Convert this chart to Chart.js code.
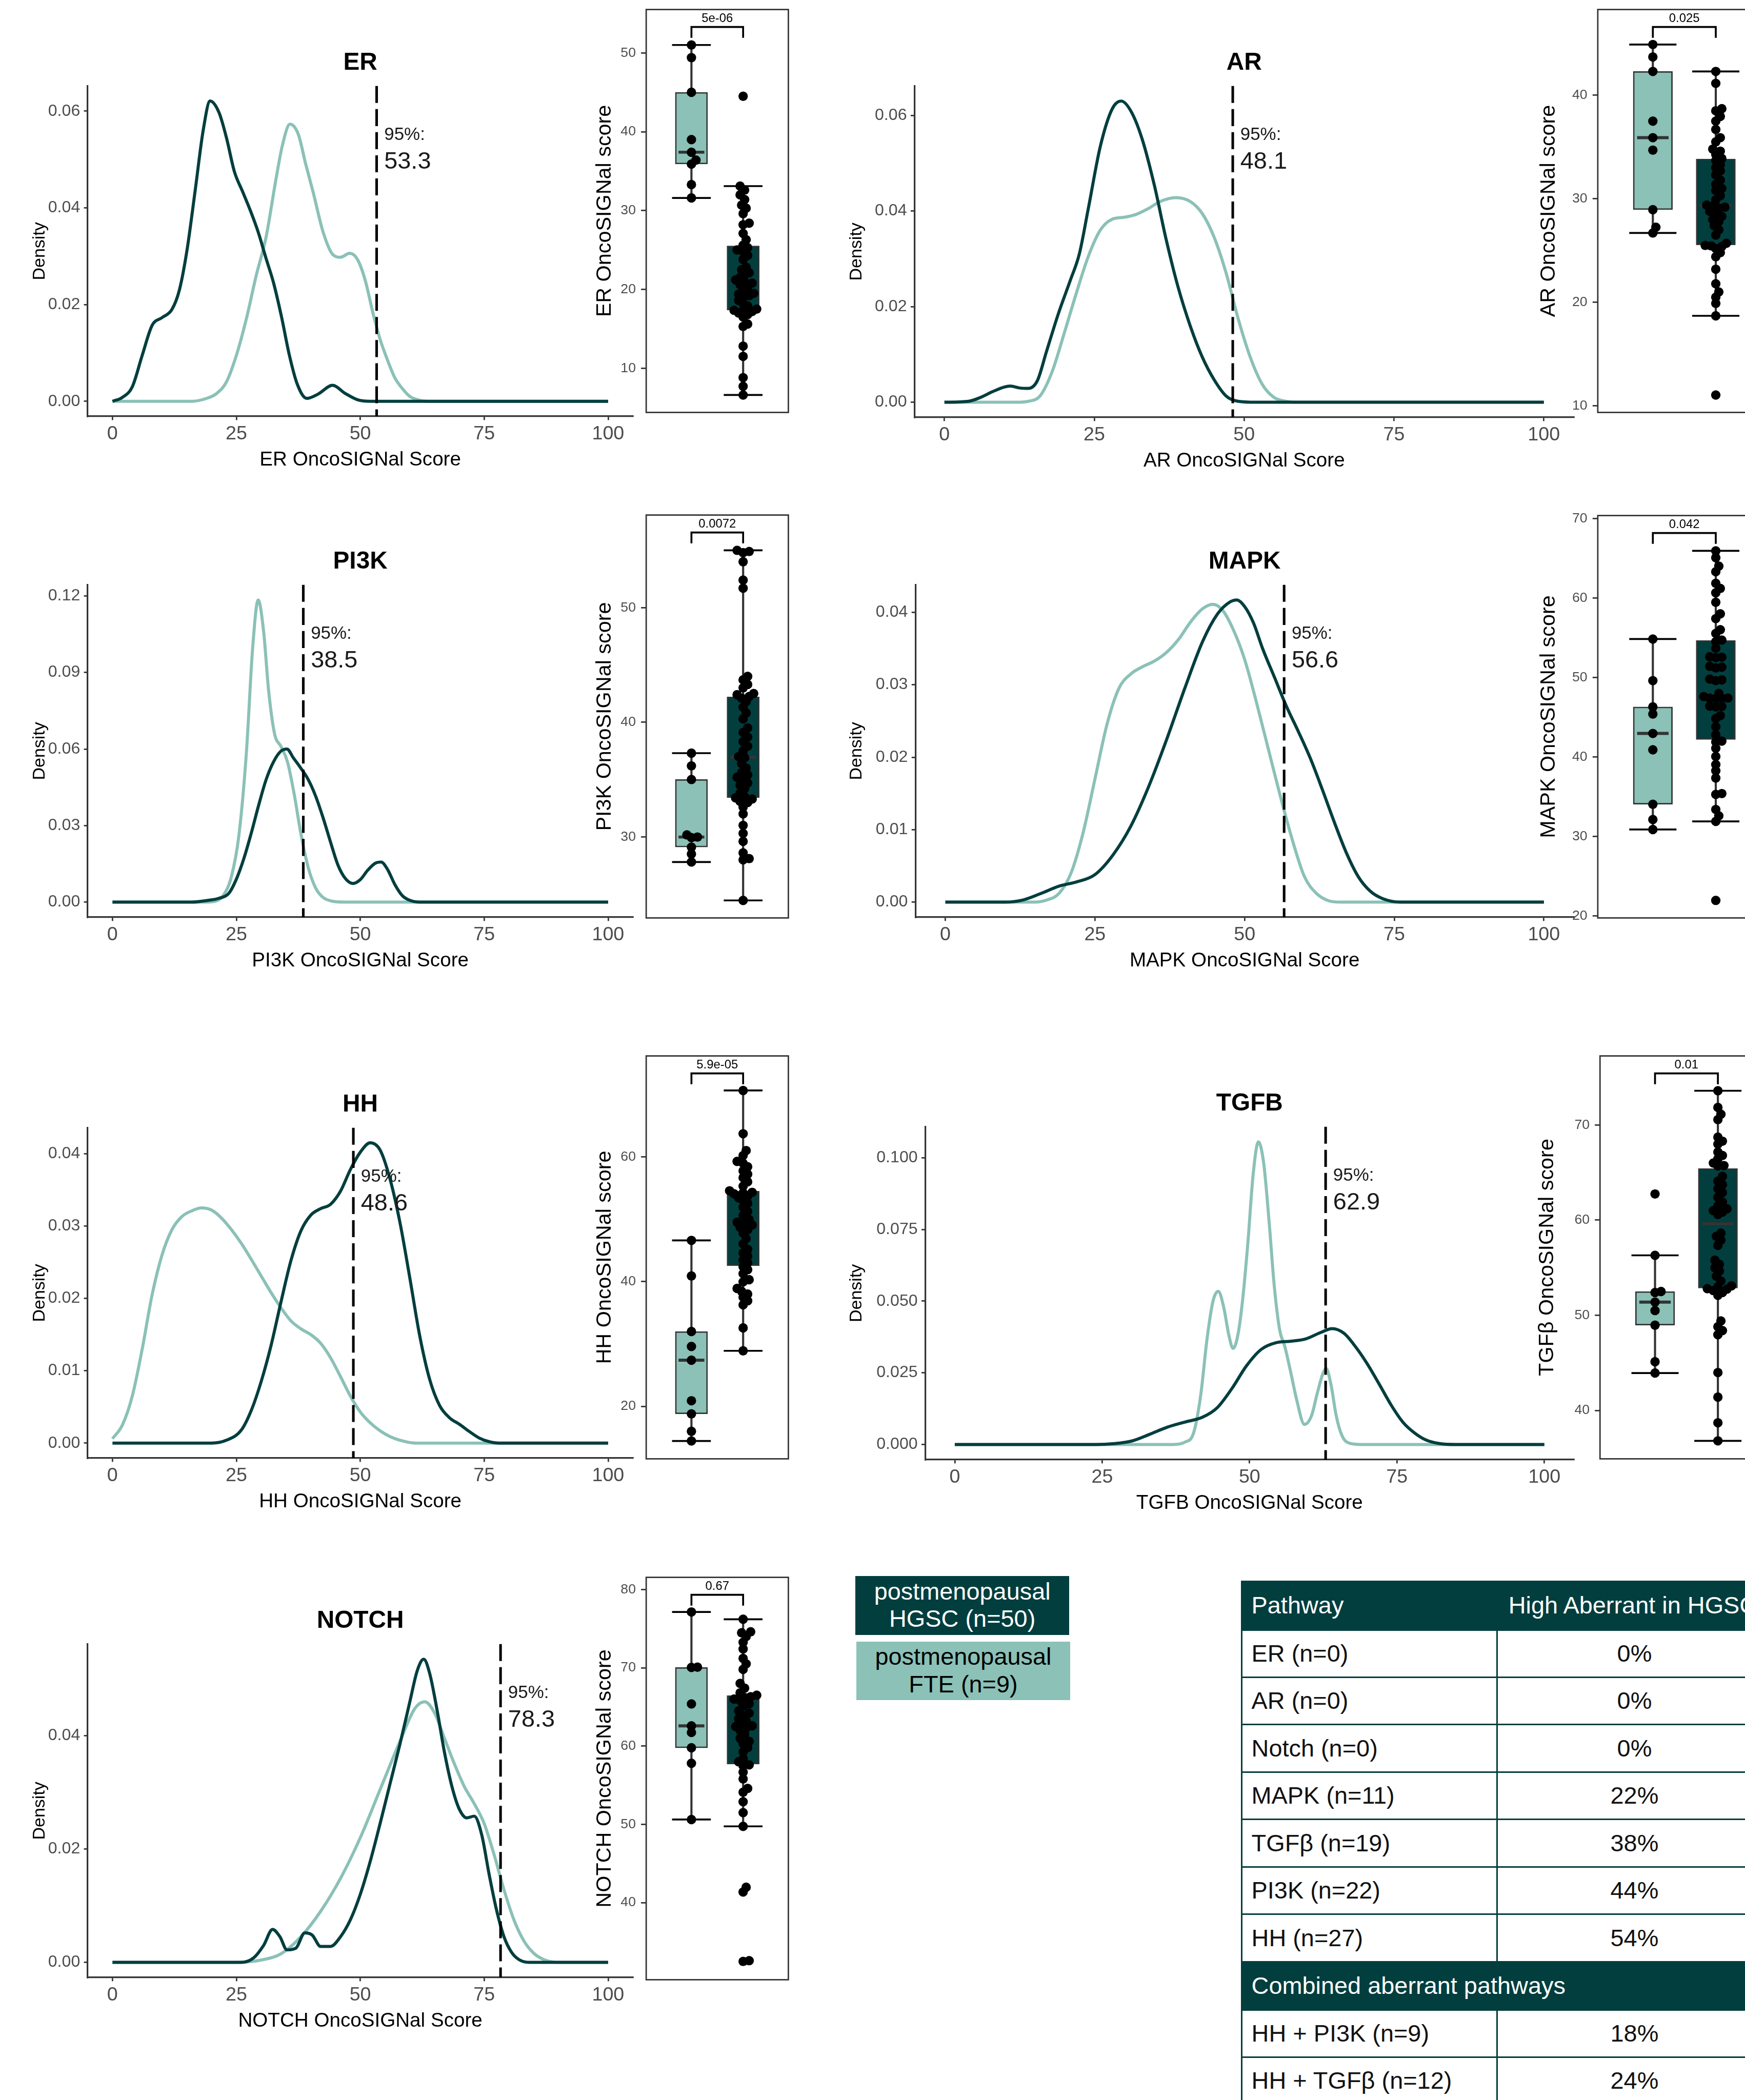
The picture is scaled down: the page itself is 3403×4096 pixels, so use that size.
<!DOCTYPE html>
<html>
<head>
<meta charset="utf-8">
<script src="https://cdn.jsdelivr.net/npm/chart.js@4.4.1/dist/chart.umd.min.js"></script>
<style>
html,body{margin:0;padding:0;background:#fff;width:3403px;height:4096px;overflow:hidden;}
#root{position:relative;width:3403px;height:4096px;overflow:hidden;background:#fff;}
#root canvas{position:absolute;}
</style>
</head>
<body>
<div id="root"></div>
<script>
// ================= DATA =================
const TITLES = ['ER', 'AR', 'PI3K', 'MAPK', 'HH', 'TGFB', 'NOTCH'];
const DENSITY_X_LABELS = ['ER OncoSIGNal Score', 'AR OncoSIGNal Score', 'PI3K OncoSIGNal Score', 'MAPK OncoSIGNal Score', 'HH OncoSIGNal Score', 'TGFB OncoSIGNal Score', 'NOTCH OncoSIGNal Score'];
const DENSITY_Y_LABEL = 'Density';
const BOX_Y_LABELS = ['ER OncoSIGNal score', 'AR OncoSIGNal score', 'PI3K OncoSIGNal score', 'MAPK OncoSIGNal score', 'HH OncoSIGNal score', 'TGFβ OncoSIGNal score', 'NOTCH OncoSIGNal score'];
const THRESHOLDS_95 = [53.3, 48.1, 38.5, 56.6, 48.6, 62.9, 78.3];
const THRESHOLD_PREFIX = '95%:';
const P_VALUES = ['5e-06', '0.025', '0.0072', '0.042', '5.9e-05', '0.01', '0.67'];

const DENSITY_X_TICKS = [0, 25, 50, 75, 100];
const DENSITY_Y_TICKS = [
  [0, 0.02, 0.04, 0.06],
  [0, 0.02, 0.04, 0.06],
  [0, 0.03, 0.06, 0.09, 0.12],
  [0, 0.01, 0.02, 0.03, 0.04],
  [0, 0.01, 0.02, 0.03, 0.04],
  [0, 0.025, 0.05, 0.075, 0.1],
  [0, 0.02, 0.04]
];
const BOX_Y_TICKS = [
  [10, 20, 30, 40, 50],
  [10, 20, 30, 40],
  [30, 40, 50],
  [20, 30, 40, 50, 60, 70],
  [20, 40, 60],
  [40, 50, 60, 70],
  [40, 50, 60, 70, 80]
];

// density curves [score, density]
const ER_HGSC_DENSITY = [[0,0],[2,0.0008],[4,0.003],[6,0.0095],[8,0.0157],[10,0.0173],[12,0.019],[13.5,0.023],[15,0.031],[16.7,0.0437],[18.3,0.056],[19.7,0.0621],[21.5,0.0597],[23,0.0545],[24.6,0.0475],[26.2,0.0435],[27.8,0.0395],[29.4,0.035],[31,0.0295],[32.5,0.0245],[34.1,0.0175],[35.7,0.0095],[37.3,0.0035],[39.2,0.0006],[41.5,0.0015],[44.4,0.0033],[47,0.0016],[49.5,0.0003],[52,0],[100,0]];
const ER_FTE_DENSITY = [[0,0],[16,0],[19,0.0006],[21,0.0016],[23,0.004],[25,0.0095],[27,0.017],[29,0.026],[31,0.034],[33,0.046],[34.3,0.053],[35.8,0.0573],[37.5,0.0552],[39,0.049],[40.5,0.0432],[42.5,0.035],[44.5,0.0303],[46,0.0298],[47.9,0.0306],[49.5,0.0292],[51,0.025],[52.5,0.0185],[54,0.0128],[55.5,0.0085],[57,0.0048],[58.6,0.0025],[60,0.001],[62,0.0002],[64,0],[100,0]];

const AR_HGSC_DENSITY = [[0,0],[4,0.0002],[6,0.001],[8,0.0022],[10,0.0032],[11,0.0034],[12.5,0.003],[14,0.0029],[15.5,0.0045],[17,0.0105],[19,0.0185],[21,0.0255],[22.5,0.031],[24,0.0405],[26,0.0535],[28,0.0614],[29.5,0.063],[31.2,0.0607],[33,0.055],[35,0.0455],[37,0.034],[39,0.024],[41,0.016],[43,0.0095],[45,0.0047],[47,0.0013],[49,0.0002],[52,0],[100,0]];
const AR_FTE_DENSITY = [[0,0],[12,0],[14,0.0002],[16,0.0014],[18,0.0065],[20,0.0145],[22,0.0228],[24,0.0305],[26,0.036],[28,0.0383],[30,0.0387],[32,0.0393],[34,0.0405],[36,0.042],[38.6,0.0428],[41,0.042],[43,0.0395],[45,0.0345],[47,0.027],[49,0.0175],[51,0.0095],[53,0.0038],[55,0.001],[57,0.0002],[59,0],[100,0]];

const PI3K_HGSC_DENSITY = [[0,0],[16,0],[19,0.0006],[21.5,0.0015],[23.5,0.0035],[25,0.009],[26.5,0.017],[28,0.027],[29.5,0.038],[31,0.048],[32.5,0.055],[34,0.0592],[35.2,0.06],[36.5,0.0565],[38,0.0525],[39.5,0.048],[41,0.0415],[42.5,0.033],[44,0.0235],[45.5,0.0145],[47,0.0092],[48.5,0.0073],[50,0.0088],[51.5,0.0125],[53,0.0152],[54.2,0.0157],[55.5,0.0128],[57,0.0068],[58.5,0.0025],[60,0.0007],[62,0],[100,0]];
const PI3K_FTE_DENSITY = [[0,0],[19,0],[21,0.0005],[22.5,0.003],[24,0.01],[25.5,0.026],[27,0.058],[28.3,0.1],[29.4,0.1184],[30.5,0.106],[31.5,0.083],[32.7,0.066],[34,0.061],[35.3,0.055],[36.6,0.043],[38,0.027],[39.5,0.0135],[41,0.0055],[42.5,0.0018],[44.5,0.0003],[47,0],[100,0]];

const MAPK_HGSC_DENSITY = [[0,0],[10,0],[13,0.0003],[16,0.0012],[19,0.0022],[22,0.0028],[25,0.0038],[28,0.0065],[31,0.0105],[34,0.016],[37,0.0225],[40,0.0295],[43,0.036],[45.5,0.0398],[47.5,0.0414],[48.7,0.0417],[50,0.0408],[51.5,0.0385],[53,0.035],[55,0.031],[57,0.027],[59,0.0235],[61,0.0198],[63,0.0155],[65,0.011],[67,0.0068],[69,0.0035],[71,0.0015],[73,0.0005],[76,0],[100,0]];
const MAPK_FTE_DENSITY = [[0,0],[15,0],[17,0.0003],[19,0.0012],[21,0.004],[23,0.0095],[25,0.017],[27,0.0245],[29,0.0295],[31,0.0315],[33,0.0325],[35,0.0333],[37,0.0345],[39,0.0363],[41,0.0387],[43,0.0405],[44.7,0.0411],[46.3,0.0403],[48,0.0378],[50,0.0335],[52,0.0275],[54,0.021],[56,0.0145],[58,0.0085],[60,0.0035],[62,0.0012],[64,0.0002],[66,0],[100,0]];

const HH_HGSC_DENSITY = [[0,0],[20,0],[23,0.0004],[26,0.0018],[28,0.0045],[30,0.0085],[32,0.0135],[34,0.0195],[36,0.0252],[38,0.0293],[40,0.0315],[42,0.0324],[44,0.033],[46,0.0348],[48,0.0378],[50,0.0402],[52,0.0415],[54,0.0405],[56,0.0365],[58,0.0305],[60,0.0228],[62,0.0148],[64,0.0088],[66,0.0052],[68,0.0035],[70,0.0026],[72,0.0016],[74,0.0007],[76,0.0002],[78,0],[100,0]];
const HH_FTE_DENSITY = [[0,0.0006],[2,0.0025],[4,0.0065],[6,0.013],[8,0.0205],[10,0.026],[12,0.0295],[14,0.0313],[16,0.0321],[18,0.0325],[20,0.0322],[22,0.0311],[24,0.0295],[26,0.0276],[28,0.0254],[30,0.0231],[32,0.0208],[34,0.0187],[36,0.0169],[38,0.0158],[40,0.015],[42,0.0138],[44,0.0118],[46,0.0092],[48,0.0065],[50,0.0043],[52,0.0028],[54,0.0017],[56,0.0009],[58,0.0004],[61,0],[100,0]];

const TGFB_HGSC_DENSITY = [[0,0],[24,0],[27,0.0003],[30,0.0012],[33,0.0035],[36,0.006],[39,0.0078],[42,0.0095],[44.5,0.0128],[47,0.0195],[49.5,0.0275],[52,0.0332],[54.5,0.0355],[57,0.036],[59.5,0.0368],[62,0.039],[64,0.0404],[66,0.0388],[68,0.034],[70,0.028],[72,0.021],[74,0.0138],[76,0.0078],[78,0.004],[80,0.0015],[82,0.0004],[85,0],[100,0]];
const TGFB_FTE_DENSITY = [[0,0],[37,0],[39,0.0008],[40.5,0.004],[41.7,0.017],[42.8,0.037],[43.8,0.05],[44.7,0.0534],[45.6,0.048],[46.5,0.038],[47.2,0.0335],[48,0.038],[48.8,0.05],[49.7,0.07],[50.6,0.094],[51.5,0.1055],[52.4,0.098],[53.3,0.078],[54.2,0.055],[55.1,0.04],[56,0.034],[57,0.025],[58,0.0155],[59.3,0.007],[60.5,0.01],[61.5,0.018],[62.4,0.0245],[63,0.0265],[63.8,0.021],[64.7,0.01],[65.7,0.003],[67,0.0004],[69,0],[100,0]];

const NOTCH_HGSC_DENSITY = [[0,0],[26,0],[28.5,0.0008],[30.5,0.003],[32.3,0.0058],[33.8,0.0045],[35.2,0.0022],[37,0.0025],[38.8,0.0052],[40.3,0.0048],[42,0.0028],[44,0.0028],[46,0.0045],[48,0.0075],[50,0.012],[52,0.0178],[54,0.0245],[56,0.0315],[58,0.0385],[60,0.046],[61.5,0.0515],[62.8,0.0535],[64,0.051],[65.5,0.0445],[67,0.037],[68.5,0.031],[70,0.027],[71.5,0.0255],[73,0.0258],[74.5,0.0225],[76,0.0155],[77.5,0.0092],[79,0.0045],[80.5,0.0018],[82,0.0005],[84,0],[100,0]];
const NOTCH_FTE_DENSITY = [[0,0],[25,0],[30,0.0004],[34,0.0015],[38,0.0045],[42,0.009],[46,0.0148],[50,0.022],[54,0.0305],[58,0.039],[61,0.0448],[63,0.046],[65,0.044],[67,0.0395],[69,0.035],[71,0.031],[73,0.028],[75,0.0245],[77,0.019],[79,0.0128],[81,0.0075],[83,0.0038],[85,0.0016],[87,0.0005],[90,0],[100,0]];

// individual OncoSIGNal scores (FTE n=9, HGSC n=50)
const ER_FTE_SCORES = [51.0, 49.4, 45.0, 39.0, 37.4, 36.4, 35.9, 33.3, 31.6];
const ER_HGSC_SCORES = [6.6, 7.7, 8.8, 11.5, 12.8, 15.3, 15.6, 16.5, 16.8, 17.0, 17.2, 17.3, 17.35, 17.5, 17.9, 18.2, 18.6, 19.0, 19.2, 19.4, 19.5, 19.9, 20.3, 20.6, 20.8, 20.95, 21.2, 21.5, 21.8, 22.1, 22.5, 22.8, 23.8, 24.3, 24.8, 25.0, 25.3, 25.6, 26.3, 27.1, 28.2, 28.4, 29.6, 30.3, 30.7, 31.4, 32.0, 32.6, 33.1, 44.5];
const AR_FTE_SCORES = [44.9, 43.7, 42.3, 37.5, 35.9, 34.7, 28.95, 27.25, 26.7];
const AR_HGSC_SCORES = [11.05, 18.7, 19.9, 20.5, 21.0, 21.8, 23.2, 24.4, 24.8, 25.2, 25.4, 25.45, 25.5, 25.7, 26.5, 27.0, 27.4, 27.8, 28.0, 28.3, 28.6, 28.8, 29.1, 29.2, 29.3, 29.4, 29.9, 30.3, 30.8, 31.0, 31.4, 31.8, 32.3, 32.7, 33.0, 33.3, 33.7, 33.9, 34.3, 34.6, 34.8, 35.5, 35.9, 36.7, 37.5, 37.96, 38.5, 38.7, 41.15, 42.3];
const PI3K_FTE_SCORES = [37.3, 36.19, 35.0, 30.17, 29.98, 29.93, 29.1, 28.5, 27.8];
const PI3K_HGSC_SCORES = [24.45, 28.0, 28.1, 28.6, 29.6, 30.3, 31.0, 32.0, 32.6, 33.0, 33.1, 33.3, 33.4, 33.5, 33.8, 34.2, 34.5, 34.7, 35.0, 35.2, 35.4, 35.6, 36.0, 36.4, 36.9, 37.0, 37.5, 37.9, 38.3, 38.7, 39.1, 39.5, 40.3, 40.8, 41.3, 41.8, 42.1, 42.25, 42.4, 42.5, 43.0, 43.3, 43.7, 44.0, 51.7, 52.4, 54.0, 54.8, 54.9, 55.0];
const MAPK_FTE_SCORES = [54.83, 49.6, 46.3, 45.4, 42.96, 40.9, 34.05, 32.14, 30.88];
const MAPK_HGSC_SCORES = [21.97, 31.9, 32.6, 33.4, 35.3, 35.4, 37.35, 38.27, 39.05, 40.07, 41.1, 41.9, 42.0, 42.8, 43.8, 44.83, 45.2, 46.3, 46.36, 46.4, 47.35, 47.38, 47.4, 47.42, 47.6, 48.0, 49.6, 49.7, 49.8, 51.2, 51.3, 51.4, 52.5, 52.55, 52.6, 53.67, 54.5, 54.7, 55.54, 56.0, 57.4, 58.0, 59.46, 60.65, 61.2, 61.84, 63.3, 64.0, 65.07, 65.92];
const HH_FTE_SCORES = [46.6, 40.9, 32.0, 29.6, 27.4, 20.9, 18.8, 16.0, 14.45];
const HH_HGSC_SCORES = [28.9, 32.58, 36.27, 36.92, 37.5, 38.0, 38.44, 38.9, 39.96, 40.3, 41.26, 41.9, 42.4, 43.0, 43.43, 44.08, 44.6, 45.16, 46.03, 46.9, 47.77, 48.3, 48.7, 49.07, 49.3, 49.5, 49.93, 50.6, 51.24, 51.9, 52.54, 53.0, 53.4, 53.7, 54.06, 54.2, 54.3, 54.55, 55.3, 56.0, 56.66, 57.2, 57.74, 58.4, 58.96, 59.26, 60.2, 61.0, 63.69, 70.63];
const TGFB_FTE_SCORES = [62.75, 56.3, 52.5, 52.4, 51.38, 50.5, 48.96, 45.12, 43.93];
const TGFB_HGSC_SCORES = [36.8, 38.7, 41.4, 43.98, 47.96, 48.39, 48.8, 49.4, 52.1, 52.4, 52.6, 52.75, 52.8, 53.0, 53.1, 53.6, 54.1, 54.65, 55.0, 55.36, 55.79, 57.35, 57.9, 58.3, 58.63, 60.6, 60.85, 61.0, 61.19, 61.5, 61.9, 62.4, 62.9, 63.3, 63.74, 64.1, 64.6, 65.7, 65.74, 66.0, 66.45, 66.8, 67.16, 68.0, 68.3, 68.72, 70.57, 71.14, 71.85, 73.6];
const NOTCH_FTE_SCORES = [77.13, 70.08, 70.05, 65.38, 62.58, 61.75, 59.78, 57.8, 50.62];
const NOTCH_HGSC_SCORES = [32.5, 32.6, 41.36, 41.98, 49.75, 51.5, 52.9, 54.1, 54.6, 55.8, 56.67, 57.5, 57.6, 58.0, 58.4, 59.26, 59.8, 60.3, 60.6, 61.0, 61.5, 62.0, 62.3, 62.5, 62.6, 62.85, 63.2, 63.5, 63.9, 64.2, 64.5, 65.1, 65.4, 65.8, 66.0, 66.2, 66.3, 66.5, 66.8, 67.4, 68.0, 69.8, 70.5, 71.19, 72.4, 73.26, 74.0, 74.47, 74.6, 76.2];

const LEGEND_LABELS = [['postmenopausal', 'HGSC (n=50)'], ['postmenopausal', 'FTE (n=9)']];
const TABLE_HEADER = ['Pathway', 'High Aberrant in HGSC'];
const PATHWAY_ROWS = ['ER (n=0)', 'AR (n=0)', 'Notch (n=0)', 'MAPK (n=11)', 'TGFβ (n=19)', 'PI3K (n=22)', 'HH (n=27)'];
const PATHWAY_PCTS = ['0%', '0%', '0%', '22%', '38%', '44%', '54%'];
const COMBINED_TITLE = 'Combined aberrant pathways';
const COMBINED_ROWS = ['HH + PI3K (n=9)', 'HH + TGFβ (n=12)'];
const COMBINED_PCTS = ['18%', '24%'];

// ================= STYLE / LAYOUT =================
const S = 3403 / 3701;
const FONT = '"Liberation Sans", Arial, Helvetica, sans-serif';
const DARK = '#023e3e', LIGHT = '#8bc1b7', AXIS = '#333333', TICKTXT = '#4d4d4d';
Chart.defaults.font.family = FONT;
Chart.defaults.color = '#000';

const DENS_SERIES = [
  [ER_HGSC_DENSITY, ER_FTE_DENSITY], [AR_HGSC_DENSITY, AR_FTE_DENSITY], [PI3K_HGSC_DENSITY, PI3K_FTE_DENSITY],
  [MAPK_HGSC_DENSITY, MAPK_FTE_DENSITY], [HH_HGSC_DENSITY, HH_FTE_DENSITY], [TGFB_HGSC_DENSITY, TGFB_FTE_DENSITY],
  [NOTCH_HGSC_DENSITY, NOTCH_FTE_DENSITY]
];
const BOX_SERIES = [
  [ER_FTE_SCORES, ER_HGSC_SCORES], [AR_FTE_SCORES, AR_HGSC_SCORES], [PI3K_FTE_SCORES, PI3K_HGSC_SCORES],
  [MAPK_FTE_SCORES, MAPK_HGSC_SCORES], [HH_FTE_SCORES, HH_HGSC_SCORES], [TGFB_FTE_SCORES, TGFB_HGSC_SCORES],
  [NOTCH_FTE_SCORES, NOTCH_HGSC_SCORES]
];
// reference-pixel layout: density [L,T,R,B,titleX], box [L,T,R,B,yMin,yMax,titleX]
const LAYOUT = [
  {dens: [186, 182, 1342, 883, 84],    box: [1371, 20, 1673, 875, 4.39, 55.50, 1283]},
  {dens: [1939, 182, 3337, 885, 1816], box: [3389, 20, 3756, 875, 9.37, 48.28, 3285]},
  {dens: [186, 1241, 1342, 1946, 84],  box: [1371, 1093, 1673, 1948, 22.92, 58.08, 1283]},
  {dens: [1941, 1241, 3337, 1946, 1816], box: [3389, 1094, 3756, 1948, 19.76, 70.36, 3285]},
  {dens: [186, 2392, 1342, 3093, 84],  box: [1371, 2240, 1673, 3095, 11.59, 76.16, 1283]},
  {dens: [1962, 2390, 3338, 3096, 1816], box: [3394, 2240, 3761, 3095, 34.91, 77.26, 3282]},
  {dens: [186, 3488, 1342, 4195, 84],  box: [1371, 3346, 1673, 4199.5, 30.16, 81.55, 1283]}
];

const root = document.getElementById('root');
function canvasAt(x0, y0, w, h) {
  const c = document.createElement('canvas');
  const W = Math.round(w * S), H = Math.round(h * S);
  c.width = W; c.height = H;
  c.style.left = (x0 * S) + 'px'; c.style.top = (y0 * S) + 'px';
  c.style.width = W + 'px'; c.style.height = H + 'px';
  root.appendChild(c);
  return c;
}

const densityDecor = {
  id: 'densityDecor',
  afterDatasetsDraw(chart, args, o) {
    const {ctx, chartArea: a} = chart;
    const px = chart.scales.x.getPixelForValue(o.thr);
    ctx.save();
    ctx.strokeStyle = '#000'; ctx.lineWidth = 5.5 * S; ctx.setLineDash([36 * S, 13 * S]);
    ctx.beginPath(); ctx.moveTo(px, a.top); ctx.lineTo(px, a.bottom); ctx.stroke();
    ctx.setLineDash([]);
    ctx.fillStyle = '#1a1a1a'; ctx.textAlign = 'left'; ctx.textBaseline = 'middle';
    ctx.font = `${38 * S}px ${FONT}`;
    ctx.fillText(THRESHOLD_PREFIX, px + 16 * S, a.top + 104 * S);
    ctx.font = `${51 * S}px ${FONT}`;
    ctx.fillText(o.thr.toFixed(1), px + 16 * S, a.top + 161 * S);
    ctx.fillStyle = '#000'; ctx.textAlign = 'center';
    ctx.font = `bold ${52 * S}px ${FONT}`;
    ctx.fillText(o.title, (a.left + a.right) / 2, a.top - 49 * S);
    ctx.restore();
  }
};

function makeDensity(i) {
  const [L, T, R, B, titleX] = LAYOUT[i].dens;
  const fY = 37, padL = 10, padR = 40, padT = 90, padB = 10, xAxisH = 114;
  const scaleLeft = titleX - fY / 2;
  const cx0 = scaleLeft - padL, cy0 = T - padT;
  const cv = canvasAt(cx0, cy0, R + padR - cx0, B + xAxisH + padB - cy0);
  const yW = L - scaleLeft;
  const [hg, ft] = DENS_SERIES[i];
  const M = Math.max(...hg.map(p => p[1]), ...ft.map(p => p[1]));
  const yt = DENSITY_Y_TICKS[i];
  const dec = Math.max(...yt.map(v => (String(v).split('.')[1] || '').length));
  const line = (arr, color, order) => ({
    data: arr.map(([x, y]) => ({x, y})), borderColor: color, borderWidth: 6.5 * S,
    pointRadius: 0, fill: false, cubicInterpolationMode: 'monotone', order
  });
  new Chart(cv, {
    type: 'line',
    data: {datasets: [line(hg, DARK, 0), line(ft, LIGHT, 1)]},
    options: {
      responsive: false, animation: false, devicePixelRatio: 1,
      layout: {padding: {left: padL * S, right: padR * S, top: padT * S, bottom: padB * S}},
      plugins: {legend: {display: false}, tooltip: {enabled: false}, title: {display: false},
        densityDecor: {thr: THRESHOLDS_95[i], title: TITLES[i]}},
      scales: {
        x: {
          type: 'linear', min: -5, max: 105,
          afterBuildTicks: s => { s.ticks = DENSITY_X_TICKS.map(v => ({value: v})); },
          afterFit: s => { s.height = xAxisH * S; },
          border: {display: true, color: AXIS, width: 3.5 * S},
          grid: {drawOnChartArea: false, drawTicks: true, color: AXIS, lineWidth: 3 * S, tickLength: 8 * S},
          ticks: {font: {size: 41 * S, lineHeight: 1}, color: TICKTXT, padding: 9 * S, maxRotation: 0, autoSkip: false},
          title: {display: true, text: DENSITY_X_LABELS[i], font: {size: 42 * S, lineHeight: 1}, color: '#000', padding: 0}
        },
        y: {
          min: -0.05 * M, max: 1.05 * M,
          afterBuildTicks: s => { s.ticks = yt.map(v => ({value: v})); },
          afterFit: s => { s.width = yW * S; },
          border: {display: true, color: AXIS, width: 3.5 * S},
          grid: {drawOnChartArea: false, drawTicks: true, color: AXIS, lineWidth: 3 * S, tickLength: 8 * S},
          ticks: {font: {size: 35 * S, lineHeight: 1}, color: TICKTXT, padding: 8 * S, autoSkip: false,
            callback: v => Number(v).toFixed(dec)},
          title: {display: true, text: DENSITY_Y_LABEL, font: {size: 37 * S, lineHeight: 1}, color: '#000', padding: 0}
        }
      }
    },
    plugins: [densityDecor]
  });
}

function boxStats(vals) {
  const s = [...vals].sort((a, b) => a - b), n = s.length;
  const q = p => { const h = (n - 1) * p, l = Math.floor(h); return l + 1 < n ? s[l] + (h - l) * (s[l + 1] - s[l]) : s[l]; };
  const q1 = q(0.25), med = q(0.5), q3 = q(0.75), iqr = q3 - q1;
  const lo = s.find(v => v >= q1 - 1.5 * iqr);
  const hi = [...s].reverse().find(v => v <= q3 + 1.5 * iqr);
  return {q1, med, q3, lo, hi};
}

function swarm(vals, pxY, pxX) {
  const diam = 20, minD = 0.65 * diam, step = 0.2 * diam;
  const order = vals.map((v, i) => i).sort((a, b) => vals[a] - vals[b]);
  const placed = [], off = new Array(vals.length).fill(0);
  order.forEach(i => {
    const yp = vals[i] * pxY;
    for (let k = 0; k < 400; k++) {
      const m = k === 0 ? 0 : (k % 2 ? (k + 1) / 2 : -k / 2);
      const xp = m * step;
      let ok = true;
      for (const p of placed) { const dx = p.x - xp, dy = p.y - yp; if (dx * dx + dy * dy < minD * minD) { ok = false; break; } }
      if (ok) { placed.push({x: xp, y: yp}); off[i] = xp / pxX; break; }
    }
  });
  return off;
}

const boxDecor = {
  id: 'boxDecor',
  beforeDatasetsDraw(chart, args, o) {
    const {ctx, scales: {x, y}} = chart;
    ctx.save(); ctx.strokeStyle = AXIS; ctx.lineWidth = 4.5 * S;
    o.stats.forEach((s, g) => {
      const px = x.getPixelForValue(g + 1);
      ctx.beginPath(); ctx.moveTo(px, y.getPixelForValue(s.lo)); ctx.lineTo(px, y.getPixelForValue(s.hi)); ctx.stroke();
    });
    ctx.restore();
  },
  afterDatasetDraw(chart, args, o) {
    if (args.meta.type !== 'bar') return;
    const {ctx, scales: {x, y}} = chart;
    ctx.save();
    o.stats.forEach((s, g) => {
      ctx.strokeStyle = AXIS; ctx.lineWidth = 6.5 * S;
      ctx.beginPath();
      ctx.moveTo(x.getPixelForValue(g + 1 - 0.25), y.getPixelForValue(s.med));
      ctx.lineTo(x.getPixelForValue(g + 1 + 0.25), y.getPixelForValue(s.med)); ctx.stroke();
      ctx.strokeStyle = '#000'; ctx.lineWidth = 4 * S;
      [s.lo, s.hi].forEach(v => {
        ctx.beginPath();
        ctx.moveTo(x.getPixelForValue(g + 1 - 0.375), y.getPixelForValue(v));
        ctx.lineTo(x.getPixelForValue(g + 1 + 0.375), y.getPixelForValue(v)); ctx.stroke();
      });
    });
    ctx.restore();
  },
  afterDatasetsDraw(chart, args, o) {
    const {ctx, chartArea: a, scales: {x}} = chart;
    ctx.save();
    ctx.strokeStyle = AXIS; ctx.lineWidth = 3 * S;
    ctx.strokeRect(a.left, a.top, a.right - a.left, a.bottom - a.top);
    const x1 = x.getPixelForValue(1), x2 = x.getPixelForValue(2);
    ctx.strokeStyle = '#000'; ctx.lineWidth = 4 * S;
    ctx.beginPath();
    ctx.moveTo(x1, a.top + 60 * S); ctx.lineTo(x1, a.top + 37 * S); ctx.lineTo(x2, a.top + 37 * S); ctx.lineTo(x2, a.top + 60 * S);
    ctx.stroke();
    ctx.fillStyle = '#000'; ctx.textAlign = 'center'; ctx.textBaseline = 'middle';
    ctx.font = `${26 * S}px ${FONT}`;
    ctx.fillText(o.p, (x1 + x2) / 2, a.top + 19 * S);
    ctx.restore();
  }
};

function makeBox(i) {
  const [L, T, R, B, yMin, yMax, titleX] = LAYOUT[i].box;
  const fT = 45, pad = 30;
  const scaleLeft = titleX - fT / 2;
  const cx0 = scaleLeft - pad, cy0 = T - pad;
  const cv = canvasAt(cx0, cy0, R + pad - cx0, B + pad - cy0);
  const yW = L - scaleLeft;
  const pxX = (R - L) / 2.2, pxY = (B - T) / (yMax - yMin);
  const [fte, hgsc] = BOX_SERIES[i];
  const stats = [boxStats(fte), boxStats(hgsc)];
  const offF = swarm(fte, pxY, pxX), offH = swarm(hgsc, pxY, pxX);
  const pts = fte.map((v, k) => ({x: 1 + offF[k], y: v})).concat(hgsc.map((v, k) => ({x: 2 + offH[k], y: v})));
  new Chart(cv, {
    type: 'bar',
    data: {datasets: [
      {type: 'scatter', data: pts, pointRadius: 10 * S, pointBackgroundColor: '#000', pointBorderWidth: 0, order: 0},
      {type: 'bar', data: stats.map((s, g) => ({x: g + 1, y: [s.q1, s.q3]})), backgroundColor: [LIGHT, DARK],
        borderColor: AXIS, borderWidth: 3 * S, borderSkipped: false, barThickness: 0.5 * pxX * S, order: 1}
    ]},
    options: {
      responsive: false, animation: false, devicePixelRatio: 1,
      layout: {padding: {left: pad * S, right: pad * S, top: pad * S, bottom: pad * S}},
      plugins: {legend: {display: false}, tooltip: {enabled: false}, title: {display: false},
        boxDecor: {stats, p: P_VALUES[i]}},
      scales: {
        x: {type: 'linear', min: 0.4, max: 2.6, display: false},
        y: {
          min: yMin, max: yMax,
          afterBuildTicks: s => { s.ticks = BOX_Y_TICKS[i].map(v => ({value: v})); },
          afterFit: s => { s.width = yW * S; },
          border: {display: false},
          grid: {drawOnChartArea: false, drawTicks: true, color: AXIS, lineWidth: 3 * S, tickLength: 11 * S},
          ticks: {font: {size: 29 * S, lineHeight: 1}, color: TICKTXT, padding: 11 * S, autoSkip: false},
          title: {display: true, text: BOX_Y_LABELS[i], font: {size: 45 * S, lineHeight: 1}, color: '#000', padding: 0}
        }
      }
    },
    plugins: [boxDecor]
  });
}

for (let i = 0; i < TITLES.length; i++) { makeDensity(i); makeBox(i); }

// ----- legend -----
const LEGEND_BOXES = [[1814, 3343, 454, 125, DARK, '#fff'], [1816, 3482, 454, 124, LIGHT, '#000']];
LEGEND_LABELS.forEach((lines, k) => {
  const [x, y, w, h, bg, fg] = LEGEND_BOXES[k];
  const d = document.createElement('div');
  Object.assign(d.style, {position: 'absolute', left: x * S + 'px', top: y * S + 'px', width: w * S + 'px', height: h * S + 'px',
    background: bg, color: fg, fontFamily: FONT, fontSize: 51 * S + 'px', lineHeight: 58 * S + 'px',
    display: 'flex', flexDirection: 'column', justifyContent: 'center', alignItems: 'center', textAlign: 'center', whiteSpace: 'nowrap'});
  lines.forEach(t => { const s = document.createElement('div'); s.textContent = t; d.appendChild(s); });
  root.appendChild(d);
});

// ----- table -----
const tbl = document.createElement('table');
Object.assign(tbl.style, {position: 'absolute', left: 2632 * S + 'px', top: 3353 * S + 'px', borderCollapse: 'collapse',
  tableLayout: 'fixed', width: (3756 - 2632) * S + 'px', fontFamily: FONT, fontSize: 51 * S + 'px'});
const cg = document.createElement('colgroup');
[542, 582].forEach(w => { const c = document.createElement('col'); c.style.width = w * S + 'px'; cg.appendChild(c); });
tbl.appendChild(cg);
const BW = 4 * S;
function cell(tr, text, opt) {
  const td = document.createElement('td');
  td.textContent = text;
  Object.assign(td.style, {border: `${BW}px solid ${DARK}`, height: (opt.h - 4) * S + 'px', padding: `0 0 0 ${opt.padL * S}px`,
    verticalAlign: 'middle', whiteSpace: 'nowrap', overflow: 'hidden', lineHeight: '1',
    background: opt.bg || '#fff', color: opt.fg || '#111', textAlign: opt.align || 'left'});
  if (opt.span) td.colSpan = opt.span;
  tr.appendChild(td);
}
let tr = document.createElement('tr');
cell(tr, TABLE_HEADER[0], {h: 103.5, padL: 19, bg: DARK, fg: '#fff'});
cell(tr, TABLE_HEADER[1], {h: 103.5, padL: 22, bg: DARK, fg: '#fff'});
tbl.appendChild(tr);
PATHWAY_ROWS.forEach((t, k) => {
  tr = document.createElement('tr');
  cell(tr, t, {h: 101.3, padL: 19});
  cell(tr, PATHWAY_PCTS[k], {h: 101.3, padL: 0, align: 'center'});
  tbl.appendChild(tr);
});
tr = document.createElement('tr');
cell(tr, COMBINED_TITLE, {h: 102.8, padL: 19, bg: DARK, fg: '#fff', span: 2});
tbl.appendChild(tr);
COMBINED_ROWS.forEach((t, k) => {
  tr = document.createElement('tr');
  cell(tr, t, {h: 101.3, padL: 19});
  cell(tr, COMBINED_PCTS[k], {h: 101.3, padL: 0, align: 'center'});
  tbl.appendChild(tr);
});
root.appendChild(tbl);
</script>
</body>
</html>
